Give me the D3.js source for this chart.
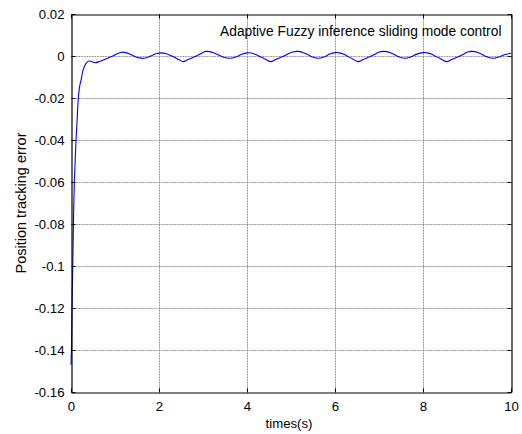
<!DOCTYPE html>
<html><head><meta charset="utf-8">
<script src="https://cdn.jsdelivr.net/npm/d3@7"></script>
<style>body{margin:0;background:#fff}svg{display:block}text{font-family:"Liberation Sans",Arial,sans-serif}</style>
</head><body><svg id="c" width="522" height="434"></svg>
<script>
const xTicks = [0, 2, 4, 6, 8, 10];
const yTicks = [0.02, 0, -0.02, -0.04, -0.06, -0.08, -0.1, -0.12, -0.14, -0.16];
const timeS = [0, 0.01, 0.023, 0.04, 0.055, 0.076, 0.095, 0.114, 0.14, 0.167, 0.2, 0.23, 0.27, 0.32, 0.36, 0.41, 0.48, 0.55,
  0.65, 0.75, 0.85, 0.95, 1.05, 1.15, 1.25, 1.35, 1.45, 1.55, 1.65, 1.75, 1.85, 1.95, 2.05, 2.15, 2.25, 2.35, 2.45,
  2.55, 2.65, 2.75, 2.85, 2.95, 3.03, 3.08, 3.15, 3.22, 3.32, 3.45, 3.61, 3.75, 3.88, 4.0, 4.1, 4.2, 4.3, 4.42,
  4.54, 4.64, 4.74, 4.84, 4.94, 5.06, 5.13, 5.2, 5.27, 5.37, 5.49, 5.62, 5.75, 5.88, 6.0, 6.1, 6.2, 6.3, 6.41,
  6.53, 6.63, 6.73, 6.83, 6.93, 7.03, 7.1, 7.17, 7.24, 7.34, 7.46, 7.59, 7.72, 7.86, 8.0, 8.1, 8.2, 8.3, 8.42,
  8.54, 8.64, 8.74, 8.84, 8.94, 9.03, 9.1, 9.17, 9.24, 9.34, 9.46, 9.6, 9.72, 9.85, 10.0];
const errorVals = [-0.147, -0.14, -0.12, -0.1, -0.08, -0.06, -0.05, -0.04, -0.03, -0.02, -0.014, -0.0114, -0.007, -0.0043, -0.003, -0.0024, -0.0027, -0.0032,
  -0.0026, -0.0018, -0.0009, 0.0000, 0.0011, 0.0018, 0.0016, 0.0008, -0.0002, -0.0009, -0.0011, -0.0006, 0.0004, 0.0012, 0.0015, 0.0012, 0.0004, -0.0006, -0.0017,
  -0.0027, -0.0018, -0.0009, 0.0000, 0.0011, 0.0020, 0.0022, 0.0021, 0.0017, 0.0008, -0.0005, -0.0011, -0.0005, 0.0008, 0.0015, 0.0014, 0.0007, -0.0003, -0.0015,
  -0.0027, -0.0018, -0.0009, 0.0000, 0.0011, 0.0020, 0.0022, 0.0021, 0.0017, 0.0008, -0.0005, -0.0011, -0.0005, 0.0009, 0.0016, 0.0015, 0.0008, -0.0003, -0.0015,
  -0.0027, -0.0018, -0.0009, 0.0000, 0.0011, 0.0020, 0.0022, 0.0021, 0.0017, 0.0008, -0.0005, -0.0011, -0.0005, 0.0009, 0.0016, 0.0015, 0.0008, -0.0003, -0.0015,
  -0.0027, -0.0018, -0.0009, 0.0000, 0.0011, 0.0020, 0.0022, 0.0021, 0.0017, 0.0008, -0.0005, -0.0011, -0.0005, 0.0006, 0.0013];
const xLabel = "times(s)";
const yLabel = "Position tracking error";
const legendText = "Adaptive Fuzzy inference sliding mode control";

const L = 71, R = 511, T = 14, B = 392;
const svg = d3.select("#c");
const x = d3.scaleLinear().domain([0, 10]).range([L, R]);
const y = d3.scaleLinear().domain([-0.16, 0.02]).range([B, T]);
const fmt = d => d === 0 ? "0" : String(d);

// grid
const g = svg.append("g");
g.selectAll(".gx").data(xTicks.slice(1, -1)).join("line")
  .attr("x1", d => x(d) + 0.5).attr("x2", d => x(d) + 0.5).attr("y1", T).attr("y2", B)
  .attr("stroke", "#8c8c8c").attr("stroke-width", 1).attr("stroke-dasharray", "1,0.6");
g.selectAll(".gy").data(yTicks.slice(1, -1)).join("line")
  .attr("y1", d => y(d) + 0.5).attr("y2", d => y(d) + 0.5).attr("x1", L).attr("x2", R)
  .attr("stroke", "#8c8c8c").attr("stroke-width", 1).attr("stroke-dasharray", "1,0.6");

// data line
const pts = timeS.map((t, i) => [t, errorVals[i]]);
svg.append("path").datum(pts)
  .attr("d", d3.line().x(d => x(d[0])).y(d => y(d[1])).curve(d3.curveCatmullRom.alpha(0.5)))
  .attr("fill", "none").attr("stroke", "#0000ff").attr("stroke-width", 1.1);

// axes
const ax = svg.append("g");
const xb = ax.append("g").attr("transform", `translate(0,${B + 0.5})`)
  .call(d3.axisBottom(x).tickValues(xTicks).tickFormat(fmt).tickSizeInner(-4).tickSizeOuter(0).tickPadding(7));
const xt = ax.append("g").attr("transform", `translate(0,${T + 0.5})`)
  .call(d3.axisTop(x).tickValues(xTicks).tickFormat("").tickSizeInner(-4).tickSizeOuter(0));
const yl = ax.append("g").attr("transform", `translate(${L + 0.5},0)`)
  .call(d3.axisLeft(y).tickValues(yTicks).tickFormat(fmt).tickSizeInner(-4).tickSizeOuter(0).tickPadding(7));
const yr = ax.append("g").attr("transform", `translate(${R + 0.5},0)`)
  .call(d3.axisRight(y).tickValues(yTicks).tickFormat("").tickSizeInner(-4).tickSizeOuter(0));
ax.selectAll(".domain").attr("stroke", "#000").attr("stroke-width", 1.2);
ax.selectAll(".tick line").attr("stroke", "#000");
ax.selectAll(".tick text").attr("font-size", 13.2).attr("fill", "#000")
  .attr("font-family", '"Liberation Sans",Arial,sans-serif');
xb.selectAll(".tick text").attr("dy", "0.85em");
yl.selectAll(".tick text").attr("dy", "0.35em");

svg.append("text").attr("x", (L + R) / 2 - 2).attr("y", 428).attr("text-anchor", "middle")
  .attr("font-size", 13.2).text(xLabel);
svg.append("text").attr("transform", `translate(26,${(T + B) / 2}) rotate(-90)`).attr("text-anchor", "middle")
  .attr("font-size", 14.5).text(yLabel);
svg.append("text").attr("x", 220).attr("y", 36).attr("font-size", 13.8).text(legendText);
</script></body></html>
